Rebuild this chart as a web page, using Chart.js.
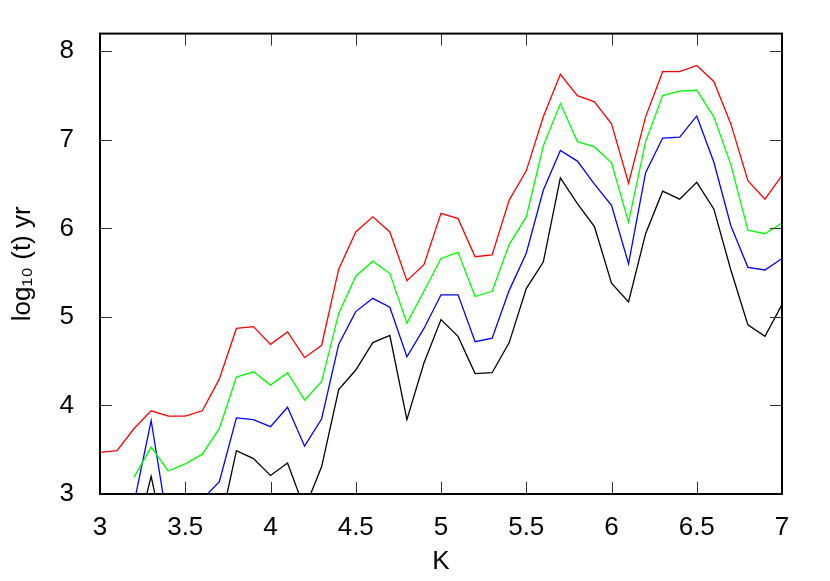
<!DOCTYPE html>
<html>
<head>
<meta charset="utf-8">
<script src="https://cdn.jsdelivr.net/npm/chart.js@4/dist/chart.umd.min.js"></script>
<style>
  body { margin: 0; background: #fff; }
  canvas { display: block; }
</style>
</head>
<body>
<canvas id="chart" width="830" height="581"></canvas>
<script>
const kValues = [3.0, 3.1, 3.2, 3.3, 3.4, 3.5, 3.6, 3.7, 3.8, 3.9,
                 4.0, 4.1, 4.2, 4.3, 4.4, 4.5, 4.6, 4.7, 4.8, 4.9,
                 5.0, 5.1, 5.2, 5.3, 5.4, 5.5, 5.6, 5.7, 5.8, 5.9,
                 6.0, 6.1, 6.2, 6.3, 6.4, 6.5, 6.6, 6.7, 6.8, 6.9, 7.0];

const redLine = [3.47, 3.49, 3.74, 3.94, 3.88, 3.88, 3.94, 4.30, 4.87, 4.89,
                 4.69, 4.83, 4.54, 4.68, 5.54, 5.96, 6.13, 5.96, 5.41, 5.59,
                 6.17, 6.11, 5.68, 5.70, 6.32, 6.65, 7.26, 7.74, 7.50, 7.43,
                 7.18, 6.51, 7.26, 7.77, 7.77, 7.84, 7.66, 7.18, 6.54, 6.33, 6.60];

const greenLine = [null, null, 3.19, 3.53, 3.26, 3.34, 3.45, 3.74, 4.32, 4.38,
                   4.23, 4.37, 4.06, 4.27, 5.04, 5.46, 5.63, 5.49, 4.93, 5.29,
                   5.66, 5.73, 5.23, 5.29, 5.82, 6.13, 6.93, 7.41, 6.98, 6.92,
                   6.74, 6.07, 6.98, 7.50, 7.55, 7.56, 7.26, 6.72, 5.98, 5.94, 6.06];

const blueLine = [null, null, 2.90, 3.83, 2.63, 2.75, 2.94, 3.14, 3.86, 3.84,
                  3.76, 3.98, 3.54, 3.85, 4.69, 5.06, 5.21, 5.11, 4.55, 4.87,
                  5.25, 5.25, 4.72, 4.76, 5.30, 5.72, 6.43, 6.88, 6.76, 6.50,
                  6.26, 5.60, 6.63, 7.02, 7.03, 7.27, 6.75, 6.03, 5.56, 5.53, 5.66];

const blackLine = [null, null, 2.43, 3.20, 2.30, 2.40, 2.50, 2.60, 3.49, 3.40,
                   3.21, 3.35, 2.83, 3.31, 4.18, 4.40, 4.71, 4.79, 3.84, 4.48,
                   4.97, 4.78, 4.36, 4.37, 4.71, 5.32, 5.62, 6.57, 6.28, 6.02,
                   5.38, 5.17, 5.94, 6.42, 6.33, 6.52, 6.22, 5.53, 4.91, 4.78, 5.14];

const xTicks = [3, 3.5, 4, 4.5, 5, 5.5, 6, 6.5, 7];
const yTicks = [3, 4, 5, 6, 7, 8];

const FONT = "'Liberation Sans', Arial, sans-serif";

function points(values) {
    return kValues.map((k, i) => ({ x: k, y: values[i] }));
}

function line(values, color) {
    return {
        data: points(values),
        borderColor: color,
        borderWidth: 1.3,
        pointRadius: 0,
        tension: 0,
        fill: false
    };
}

// inward ticks on all four sides plus the box
const framePlugin = {
    id: 'frame',
    afterDatasetsDraw(chart) {
        const ctx = chart.ctx;
        const a = chart.chartArea;
        const xs = chart.scales.x;
        const ys = chart.scales.y;
        const len = 12;
        ctx.save();
        ctx.strokeStyle = '#333';
        ctx.lineWidth = 1;
        ctx.beginPath();
        xTicks.forEach(v => {
            const px = Math.round(xs.getPixelForValue(v)) + 0.5;
            ctx.moveTo(px, a.bottom);
            ctx.lineTo(px, a.bottom - len);
            ctx.moveTo(px, a.top);
            ctx.lineTo(px, a.top + len);
        });
        yTicks.forEach(v => {
            const py = Math.round(ys.getPixelForValue(v)) + 0.5;
            ctx.moveTo(a.left, py);
            ctx.lineTo(a.left + len, py);
            ctx.moveTo(a.right, py);
            ctx.lineTo(a.right - len, py);
        });
        ctx.stroke();
        ctx.strokeStyle = '#000';
        ctx.lineWidth = 2;
        ctx.strokeRect(a.left, a.top, a.right - a.left, a.bottom - a.top);
        ctx.restore();
    }
};

function renderChart() {
    const ctx = document.getElementById('chart').getContext('2d');
    const chart = new Chart(ctx, {
        type: 'line',
        data: {
            datasets: [
                line(redLine, '#ff0000'),
                line(greenLine, '#00ff00'),
                line(blueLine, '#0000ff'),
                line(blackLine, '#000000')
            ]
        },
        options: {
            responsive: false,
            animation: false,
            layout: { padding: { top: 26, right: 48, left: 0, bottom: 0 } },
            plugins: {
                legend: { display: false },
                tooltip: { enabled: false }
            },
            scales: {
                x: {
                    type: 'linear',
                    min: 3,
                    max: 7,
                    afterFit(scale) { scale.height = 87; },
                    afterBuildTicks(scale) { scale.ticks = xTicks.map(v => ({ value: v })); },
                    grid: { display: false },
                    border: { display: false },
                    ticks: {
                        padding: 10,
                        color: '#000',
                        font: { family: FONT, size: 26 },
                        maxRotation: 0,
                        callback: v => String(v)
                    },
                    title: {
                        display: true,
                        text: 'K',
                        color: '#000',
                        font: { family: FONT, size: 26 },
                        padding: { top: 0, bottom: 4 }
                    }
                },
                y: {
                    min: 3,
                    max: 8.2,
                    afterFit(scale) { scale.width = 100; },
                    afterBuildTicks(scale) { scale.ticks = yTicks.map(v => ({ value: v })); },
                    grid: { display: false },
                    border: { display: false },
                    ticks: {
                        padding: 18,
                        color: '#000',
                        font: { family: FONT, size: 26 },
                        callback: v => String(v)
                    },
                    title: {
                        display: true,
                        text: 'log\u2081\u2080 (t) yr',
                        color: '#000',
                        font: { family: FONT, size: 26 },
                        padding: { top: 7, bottom: 0 }
                    }
                }
            }
        },
        plugins: [framePlugin]
    });
}

renderChart();
</script>
</body>
</html>
